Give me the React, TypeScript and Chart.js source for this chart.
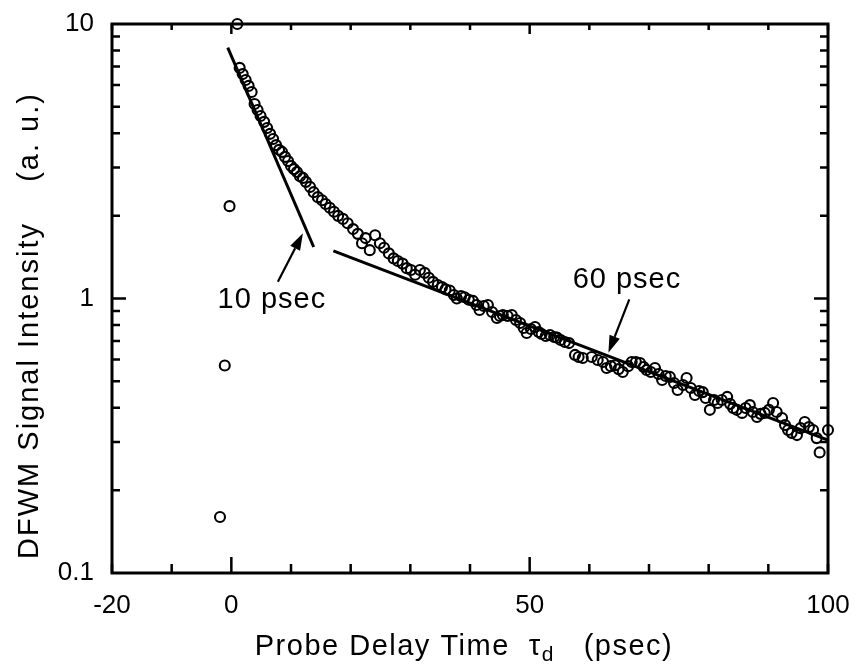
import React, { useEffect, useRef } from "react";
import { Chart, registerables } from "chart.js";
Chart.register(...registerables);

// Measured DFWM signal (probe delay in psec, signal in a.u.)
const delayTimes = [
  1.4, 1.9, 2.4, 2.9, 3.4, 3.9, 4.4, 4.9, 5.5, 6.0, 6.5, 7.0, 7.5, 8.0, 8.5, 9.0, 9.5, 10.0, 10.5, 11.0,
  11.5, 12.0, 12.5, 13.2, 13.8, 14.5, 15.2, 15.8, 16.5, 17.2, 17.9, 18.7, 19.5, 20.4, 21.2, 21.9, 22.5, 23.2, 24.1, 24.9,
  25.6, 26.4, 27.2, 27.9, 28.7, 29.4, 30.1, 30.8, 31.6, 32.4, 33.1, 33.8, 34.6, 35.3, 35.9, 36.6, 37.3, 37.8, 38.5, 39.1,
  39.8, 40.5, 41.1, 41.6, 42.3, 43.0, 43.7, 44.5, 45.0, 45.5, 46.3, 47.0, 47.7, 48.4, 49.0, 49.5, 50.2, 50.9, 51.5, 52.0,
  52.7, 53.4, 54.1, 54.6, 55.2, 55.9, 56.6, 57.6, 58.2, 58.9, 60.4, 61.4, 62.3, 62.9, 63.6, 64.3, 64.9, 65.6, 66.5, 67.1,
  67.8, 68.5, 69.1, 69.6, 70.3, 71.0, 71.6, 72.2, 72.8, 73.5, 74.2, 74.8, 75.7, 76.3, 77.0, 77.7, 78.4, 79.0, 79.5, 80.2,
  80.9, 81.5, 82.2, 83.1, 83.6, 84.1, 84.7, 85.6, 86.2, 86.9, 87.4, 88.1, 88.7, 89.4, 90.1, 90.8, 91.4, 92.3, 92.8, 93.3,
  93.9, 94.8, 95.4, 96.1, 96.8, 97.5, 98.1, 98.6, 100.0,
];
const signalValues = [
  6.92, 6.57, 6.25, 5.95, 5.65, 5.11, 4.86, 4.62, 4.40, 4.18, 3.98, 3.81, 3.62, 3.48, 3.42, 3.28, 3.17, 3.04, 2.96, 2.89,
  2.79, 2.75, 2.66, 2.55, 2.44, 2.34, 2.28, 2.21, 2.14, 2.07, 2.00, 1.95, 1.88, 1.79, 1.72, 1.59, 1.66, 1.50, 1.70, 1.59,
  1.53, 1.46, 1.40, 1.37, 1.34, 1.29, 1.27, 1.22, 1.27, 1.24, 1.19, 1.15, 1.12, 1.10, 1.08, 1.07, 1.03, 1.00, 1.02, 1.01,
  0.99, 0.98, 0.947, 0.908, 0.939, 0.947, 0.893, 0.849, 0.864, 0.871, 0.864, 0.871, 0.835, 0.814, 0.781, 0.749, 0.774, 0.787, 0.755, 0.742,
  0.730, 0.736, 0.724, 0.72, 0.706, 0.694, 0.688, 0.623, 0.612, 0.607, 0.612, 0.597, 0.587, 0.558, 0.567, 0.571, 0.553, 0.540, 0.567, 0.587,
  0.587, 0.582, 0.563, 0.549, 0.540, 0.558, 0.531, 0.505, 0.522, 0.518, 0.492, 0.464, 0.484, 0.513, 0.472, 0.445, 0.460, 0.456, 0.434, 0.393,
  0.427, 0.416, 0.427, 0.438, 0.413, 0.399, 0.393, 0.383, 0.399, 0.409, 0.386, 0.370, 0.380, 0.383, 0.393, 0.416, 0.386, 0.367, 0.346, 0.332,
  0.324, 0.318, 0.337, 0.355, 0.340, 0.332, 0.310, 0.275, 0.332,
];
// Points around zero delay
const earlyTimes = [1.0, -0.3, -1.1, -1.9];
const earlyValues = [10, 2.17, 0.57, 0.16];

// Fitted exponential decays
const fast10Times = [-0.6, 13.8];
const fast10Values = [8.2, 1.54];
const slow60Times = [17.1, 100];
const slow60Values = [1.49, 0.305];

// Annotations
const labelTexts = ["10 psec", "60 psec"];
const labelTimes = [-2.3, 57.2];
const labelValues = [0.92, 1.095];
const arrowTailTimes = [7.8, 66.7];
const arrowTailValues = [1.15, 0.992];
const arrowTipTimes = [12.0, 63.2];
const arrowTipValues = [1.73, 0.635];

// Ticks
const xTickLabels = [-20, 0, 50, 100];
const xTickMarks = [-20, -10, 0, 10, 20, 30, 40, 50, 60, 70, 80, 90, 100];
const xMajorMarks = [0, 50];
const yTickLabels = [0.1, 1, 10];
const yMinorMarks = [0.2, 0.3, 0.4, 0.5, 0.6, 0.7, 0.8, 0.9, 2, 3, 4, 5, 6, 7, 8, 9];
const yMajorMarks = [1];

const FONT = '"Liberation Sans", Arial, Helvetica, sans-serif';

const zip = (xs: number[], ys: number[]) => xs.map((x, i) => ({ x, y: ys[i] }));

const decorPlugin = {
  id: "decor",
  afterDatasetsDraw(chart: any) {
    const { ctx, chartArea: a, scales } = chart;
    const xs = scales.x;
    const ys = scales.y;
    ctx.save();
    ctx.strokeStyle = "#000";
    ctx.fillStyle = "#000";
    // frame
    ctx.lineWidth = 3;
    ctx.strokeRect(a.left, a.top, a.right - a.left, a.bottom - a.top);
    // ticks (inside)
    ctx.lineWidth = 2.5;
    ctx.beginPath();
    for (const v of xTickMarks) {
      const px = xs.getPixelForValue(v);
      const major = xMajorMarks.includes(v);
      const lb = major ? 16 : 9;
      const lt = major ? 10 : 6;
      ctx.moveTo(px, a.bottom);
      ctx.lineTo(px, a.bottom - lb);
      ctx.moveTo(px, a.top);
      ctx.lineTo(px, a.top + lt);
    }
    for (const v of yMinorMarks.concat(yMajorMarks)) {
      const py = ys.getPixelForValue(v);
      const l = yMajorMarks.includes(v) ? 14 : 8;
      ctx.moveTo(a.left, py);
      ctx.lineTo(a.left + l, py);
      ctx.moveTo(a.right, py);
      ctx.lineTo(a.right - l, py);
    }
    ctx.stroke();

    // arrows
    ctx.lineWidth = 2.2;
    arrowTailTimes.forEach((t, i) => {
      const x0 = xs.getPixelForValue(t);
      const y0 = ys.getPixelForValue(arrowTailValues[i]);
      const x1 = xs.getPixelForValue(arrowTipTimes[i]);
      const y1 = ys.getPixelForValue(arrowTipValues[i]);
      const ang = Math.atan2(y1 - y0, x1 - x0);
      const hl = 17;
      const hw = 5.5;
      const bx = x1 - hl * Math.cos(ang);
      const by = y1 - hl * Math.sin(ang);
      ctx.beginPath();
      ctx.moveTo(x0, y0);
      ctx.lineTo(bx, by);
      ctx.stroke();
      ctx.beginPath();
      ctx.moveTo(x1, y1);
      ctx.lineTo(bx + hw * Math.sin(ang), by - hw * Math.cos(ang));
      ctx.lineTo(bx - hw * Math.sin(ang), by + hw * Math.cos(ang));
      ctx.closePath();
      ctx.fill();
    });

    // annotation labels
    ctx.font = `29px ${FONT}`;
    ctx.textAlign = "left";
    ctx.textBaseline = "alphabetic";
    (ctx as any).letterSpacing = "1px";
    labelTexts.forEach((s, i) => {
      ctx.fillText(s, xs.getPixelForValue(labelTimes[i]), ys.getPixelForValue(labelValues[i]));
    });

    // x axis title with subscript
    (ctx as any).letterSpacing = "1.5px";
    const main = "Probe Delay Time  τ";
    const sub = "d";
    const tail = "   (psec)";
    const big = `29px ${FONT}`;
    const small = `21px ${FONT}`;
    ctx.font = big;
    const w1 = ctx.measureText(main).width;
    const w3 = ctx.measureText(tail).width;
    ctx.font = small;
    const w2 = ctx.measureText(sub).width;
    const total = w1 + w2 + w3;
    const cx = (a.left + a.right) / 2 - 6;
    const base = a.bottom + 82;
    let xx = cx - total / 2;
    ctx.font = big;
    ctx.fillText(main, xx, base);
    xx += w1;
    ctx.font = small;
    ctx.fillText(sub, xx, base + 6);
    xx += w2;
    ctx.font = big;
    ctx.fillText(tail, xx, base);

    // y axis title
    (ctx as any).letterSpacing = "2px";
    ctx.save();
    ctx.translate(22, (a.top + a.bottom) / 2 + 27);
    ctx.rotate(-Math.PI / 2);
    ctx.font = `29px ${FONT}`;
    ctx.textAlign = "center";
    ctx.textBaseline = "middle";
    ctx.fillText("DFWM Signal Intensity    (a. u.)", 0, 0);
    ctx.restore();
    (ctx as any).letterSpacing = "0px";

    ctx.restore();
  },
};

export default function App() {
  const ref = useRef<HTMLCanvasElement | null>(null);
  useEffect(() => {
    if (!ref.current) return;
    const chart = new Chart(ref.current, {
      type: "scatter",
      data: {
        datasets: [
          {
            data: zip(delayTimes, signalValues).concat(zip(earlyTimes, earlyValues)),
            pointStyle: "circle",
            pointRadius: 5,
            pointBorderWidth: 2.1,
            borderColor: "#000",
            backgroundColor: "rgba(0,0,0,0)",
            showLine: false,
            clip: false,
          } as any,
          {
            data: zip(fast10Times, fast10Values),
            showLine: true,
            borderColor: "#000",
            borderWidth: 3,
            pointRadius: 0,
          },
          {
            data: zip(slow60Times, slow60Values),
            showLine: true,
            borderColor: "#000",
            borderWidth: 3,
            pointRadius: 0,
          },
        ],
      },
      options: {
        animation: false,
        responsive: false,
        layout: { padding: { left: 0, top: 16, right: 22, bottom: 0 } },
        plugins: { legend: { display: false }, tooltip: { enabled: false }, title: { display: false } },
        scales: {
          x: {
            type: "linear",
            min: -20,
            max: 100,
            afterBuildTicks: (s: any) => {
              s.ticks = xTickLabels.map((v) => ({ value: v }));
            },
            afterFit: (s: any) => {
              s.height = 93;
              s.paddingLeft = 0;
              s.paddingRight = 0;
            },
            grid: { display: false, drawTicks: false },
            border: { display: false },
            ticks: {
              autoSkip: false,
              maxRotation: 0,
              padding: 17,
              color: "#000",
              font: { family: FONT, size: 26 },
              callback: (v: any) => String(v),
            },
          },
          y: {
            type: "logarithmic",
            min: 0.1,
            max: 10,
            afterBuildTicks: (s: any) => {
              s.ticks = yTickLabels.map((v) => ({ value: v }));
            },
            afterFit: (s: any) => {
              s.width = 104;
              s.paddingTop = 0;
              s.paddingBottom = 0;
            },
            grid: { display: false, drawTicks: false },
            border: { display: false },
            ticks: {
              autoSkip: false,
              padding: 18,
              color: "#000",
              font: { family: FONT, size: 26 },
              callback: (v: any) => String(v),
            },
          },
        },
      },
      plugins: [decorPlugin],
    });
    return () => chart.destroy();
  }, []);
  return (
    <div style={{ width: 842, height: 658 }}>
      <canvas ref={ref} width={842} height={658} style={{ display: "block" }} />
    </div>
  );
}
